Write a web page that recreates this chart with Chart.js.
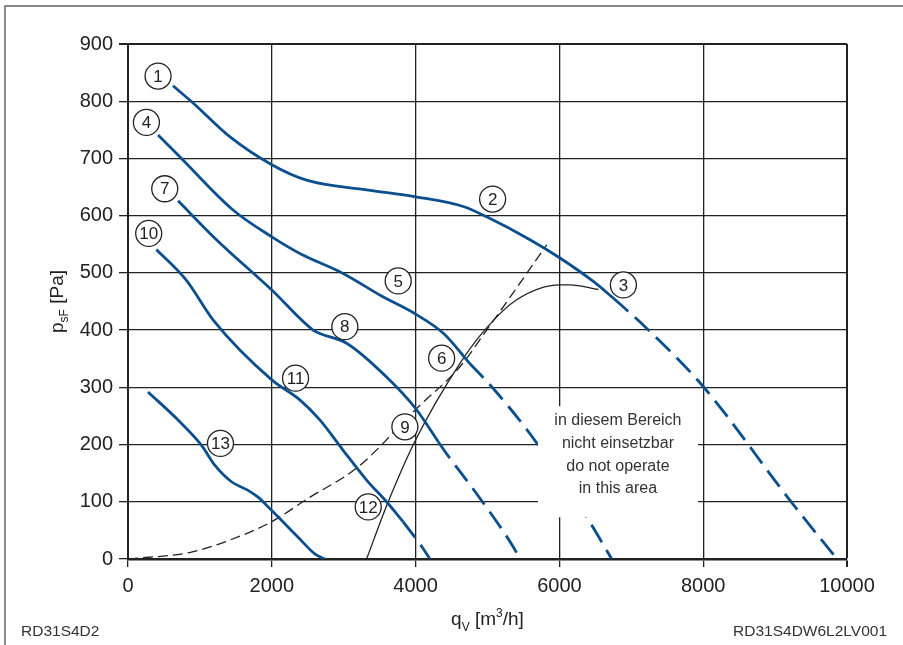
<!DOCTYPE html>
<html>
<head>
<meta charset="utf-8">
<script src="https://cdn.jsdelivr.net/npm/chart.js@4/dist/chart.umd.min.js"></script>
<style>
  html, body { margin: 0; padding: 0; background: #fff; }
  #wrap { width: 903px; height: 645px; }
</style>
</head>
<body>
<div id="wrap"><canvas id="chart" width="903" height="645"></canvas></div>
<script>
"use strict";

// Curve 1-2-3 (solid) and its dashed continuation
const curve1X = [626, 905, 1415, 2000, 2483, 3318, 4000, 4663, 4988, 5591, 6008, 6472, 6750];
const curve1Y = [827, 797, 738, 689, 662, 645, 633, 616, 598, 558, 526, 485, 456];
const curve1DashX = [6750, 7215, 8003, 9210, 9860];
const curve1DashY = [456, 403, 301, 102, 0];

// Curve 4-5-6
const curve4X = [418, 720, 1461, 2000, 2390, 2992, 3520, 4000, 4390, 4750];
const curve4Y = [741, 703, 610, 563, 534, 499, 460, 428, 394, 342];
const curve4DashX = [4750, 5080, 5637, 6380, 6728];
const curve4DashY = [342, 298, 211, 73, 0];

// Curve 7-8-9
const curve7X = [696, 1230, 2000, 2575, 2668, 3040, 3596, 4000, 4315];
const curve7Y = [626, 558, 470, 400, 394, 377, 318, 263, 205];
const curve7DashX = [4315, 4431, 4849, 5359, 5451];
const curve7DashY = [205, 184, 114, 21, 0];

// Curve 10-11-12
const curve10X = [395, 813, 1183, 2000, 2390, 2668, 2992, 3318, 3596, 3828];
const curve10Y = [541, 487, 418, 313, 278, 243, 190, 138, 100, 65];
const curve10DashX = [3828, 4106, 4199];
const curve10DashY = [65, 18, 0];

// Curve 13
const curve13X = [278, 696, 1021, 1207, 1439, 1670, 1809, 1996, 2366, 2598, 2738];
const curve13Y = [292, 243, 199, 164, 135, 120, 108, 85, 38, 9, 0];

// system curve (black dashed) and operating limit (black solid)
const systemX = [0, 882, 1578, 1996, 2505, 3201, 4014, 4617, 4988, 5289, 5823];
const systemY = [0, 12, 41, 65, 106, 161, 263, 336, 400, 453, 549];
const limitX = [3318, 3619, 4000, 4617, 4988, 5406, 6008, 6148, 6542];
const limitY = [0, 100, 208, 342, 404, 453, 479, 479, 471];

// circled point numbers
const markText = ["1", "2", "3", "4", "5", "6", "7", "8", "9", "10", "11", "12", "13"];
const markX = [418, 5071, 6890, 256, 3758, 4362, 511, 3016, 3851, 288, 2330, 3341, 1286];
const markY = [844, 629, 479, 763, 486, 351, 647, 406, 231, 569, 316, 91, 202];

// "do not operate" area
const areaX = [5702, 7929];
const areaY = [73, 267];
const areaTextX = 6814;
const areaTextY = 182;
const areaLines = ["in diesem Bereich", "nicht einsetzbar", "do not operate", "in this area"];

const xTicksMax = 10000;
const yTicksMax = 900;

const FONT = '"Liberation Sans", Arial, Helvetica, sans-serif';
const BLUE = "#0b4f8f";
const INK = "#222";

Chart.defaults.font.family = FONT;
Chart.defaults.color = INK;

const pts = (xs, ys) => xs.map((x, i) => ({ x, y: ys[i] }));

function blue(xs, ys, dashed) {
  return {
    data: pts(xs, ys),
    borderColor: BLUE,
    borderWidth: 2.8,
    borderDash: dashed ? [20, 9] : [],
    borderCapStyle: "butt",
    pointRadius: 0,
    showLine: true,
    cubicInterpolationMode: "monotone",
  };
}

function textParts(ctx, parts, x, y) {
  let w = 0;
  for (const p of parts) {
    ctx.font = `${p.size}px ${FONT}`;
    p.w = ctx.measureText(p.t).width;
    w += p.w;
  }
  let cx = x - w / 2;
  ctx.textAlign = "left";
  ctx.textBaseline = "alphabetic";
  for (const p of parts) {
    ctx.font = `${p.size}px ${FONT}`;
    ctx.fillText(p.t, cx, y + (p.dy || 0));
    cx += p.w;
  }
}

const decorations = {
  id: "decorations",
  beforeDraw(chart) {
    const { ctx } = chart;
    ctx.save();
    ctx.strokeStyle = "#666";
    ctx.lineWidth = 1.5;
    ctx.beginPath();
    ctx.moveTo(5, 645);
    ctx.lineTo(5, 6);
    ctx.lineTo(903, 6);
    ctx.stroke();
    ctx.restore();
  },
  afterDatasetsDraw(chart) {
    const { ctx, scales } = chart;
    const { x, y } = scales;
    ctx.save();

    // white area hiding grid and curves
    const x0 = x.getPixelForValue(areaX[0]);
    const x1 = x.getPixelForValue(areaX[1]);
    const y0 = y.getPixelForValue(areaY[1]);
    const y1 = y.getPixelForValue(areaY[0]);
    ctx.fillStyle = "#fff";
    ctx.fillRect(x0, y0, x1 - x0, y1 - y0);

    ctx.fillStyle = "#333";
    ctx.font = `16px ${FONT}`;
    ctx.textAlign = "center";
    ctx.textBaseline = "middle";
    const tx = x.getPixelForValue(areaTextX);
    const ty = y.getPixelForValue(areaTextY);
    const lh = 22.8;
    areaLines.forEach((line, i) => {
      ctx.fillText(line, tx, ty + (i - (areaLines.length - 1) / 2) * lh);
    });

    // circled numbers
    markText.forEach((t, i) => {
      const px = x.getPixelForValue(markX[i]);
      const py = y.getPixelForValue(markY[i]);
      ctx.beginPath();
      ctx.arc(px, py, 13, 0, Math.PI * 2);
      ctx.fillStyle = "#fff";
      ctx.fill();
      ctx.lineWidth = 1.3;
      ctx.strokeStyle = INK;
      ctx.stroke();
      ctx.fillStyle = INK;
      ctx.font = `17px ${FONT}`;
      ctx.textAlign = "center";
      ctx.textBaseline = "middle";
      ctx.fillText(t, px, py + 1);
    });
    ctx.restore();
  },
  afterDraw(chart) {
    const { ctx, chartArea } = chart;
    ctx.save();
    ctx.fillStyle = INK;

    // x axis title: q_V [m³/h]
    textParts(ctx, [
      { t: "q", size: 19 },
      { t: "V", size: 12, dy: 6 },
      { t: " [m", size: 19 },
      { t: "3", size: 12, dy: -8 },
      { t: "/h]", size: 19 },
    ], (chartArea.left + chartArea.right) / 2, 625);

    // y axis title: p_sF [Pa]
    ctx.translate(63, (chartArea.top + chartArea.bottom) / 2);
    ctx.rotate(-Math.PI / 2);
    textParts(ctx, [
      { t: "p", size: 19 },
      { t: "sF", size: 12, dy: 5 },
      { t: " [Pa]", size: 19 },
    ], 0, 0);
    ctx.setTransform(1, 0, 0, 1, 0, 0);

    // footers
    ctx.fillStyle = "#333";
    ctx.font = `15.5px ${FONT}`;
    ctx.textBaseline = "alphabetic";
    ctx.textAlign = "left";
    ctx.fillText("RD31S4D2", 21, 636);
    ctx.textAlign = "right";
    ctx.fillText("RD31S4DW6L2LV001", 887, 636);
    ctx.restore();
  },
};

new Chart(document.getElementById("chart"), {
  type: "scatter",
  data: {
    datasets: [
      blue(curve1X, curve1Y, false),
      blue(curve1DashX, curve1DashY, true),
      blue(curve4X, curve4Y, false),
      blue(curve4DashX, curve4DashY, true),
      blue(curve7X, curve7Y, false),
      blue(curve7DashX, curve7DashY, true),
      blue(curve10X, curve10Y, false),
      blue(curve10DashX, curve10DashY, true),
      blue(curve13X, curve13Y, false),
      {
        data: pts(limitX, limitY),
        borderColor: INK,
        borderWidth: 1.3,
        pointRadius: 0,
        showLine: true,
        cubicInterpolationMode: "monotone",
      },
      {
        data: pts(systemX, systemY),
        borderColor: INK,
        borderWidth: 1.3,
        borderDash: [10, 5],
        pointRadius: 0,
        showLine: true,
        cubicInterpolationMode: "monotone",
      },
    ],
  },
  options: {
    responsive: false,
    animation: false,
    events: [],
    layout: { padding: { left: 0, top: 44, right: 56, bottom: 0 } },
    plugins: {
      legend: { display: false },
      tooltip: { enabled: false },
    },
    scales: {
      x: {
        type: "linear",
        min: 0,
        max: xTicksMax,
        afterFit: (s) => { s.height = 86; },
        ticks: {
          stepSize: 2000,
          padding: 7,
          color: INK,
          font: { size: 20 },
          callback: (v) => String(v),
        },
        grid: {
          color: INK,
          lineWidth: (c) => (c.tick && c.tick.value === xTicksMax ? 2 : 1.3),
          tickLength: 8,
        },
        border: { display: true, color: INK, width: 2.4 },
      },
      y: {
        type: "linear",
        min: 0,
        max: yTicksMax,
        afterFit: (s) => { s.width = 128; },
        ticks: {
          stepSize: 100,
          padding: 6,
          color: INK,
          font: { size: 20 },
          callback: (v) => String(v),
        },
        grid: {
          color: INK,
          lineWidth: (c) => (c.tick && c.tick.value === yTicksMax ? 2 : 1.3),
          tickLength: 9,
        },
        border: { display: true, color: INK, width: 2 },
      },
    },
  },
  plugins: [decorations],
});
</script>
</body>
</html>
